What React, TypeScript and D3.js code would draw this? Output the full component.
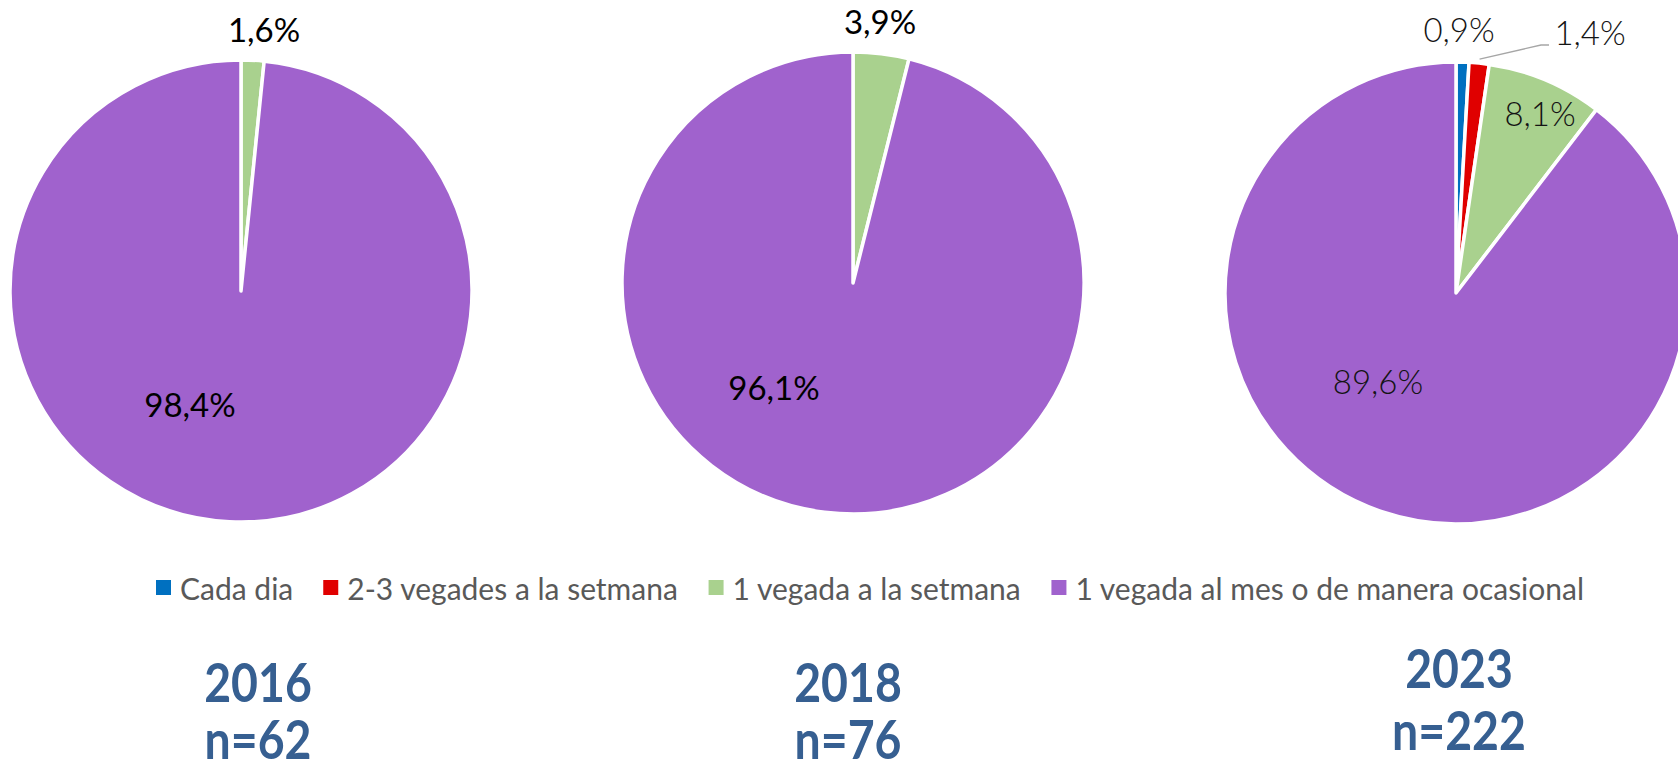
import React from "react";
import * as d3 from "d3";

const categories = [
  "Cada dia",
  "2-3 vegades a la setmana",
  "1 vegada a la setmana",
  "1 vegada al mes o de manera ocasional",
];
const colors = ["#0070C0", "#E00000", "#A9D18E", "#A062CD"];
const years = ["2016", "2018", "2023"];
const sampleSizes = ["n=62", "n=76", "n=222"];
const values2016 = [0, 0, 1.6, 98.4];
const values2018 = [0, 0, 3.9, 96.1];
const values2023 = [0.9, 1.4, 8.1, 89.6];
const seriesValues = [values2016, values2018, values2023];

// layout
const W = 1678;
const H = 764;
const R = 231;
const pieCenters: [number, number][] = [
  [241, 291],
  [853, 283],
  [1456, 293],
];
// label anchors relative to each pie centre (text centre x, baseline y)
const labelOffsets: ([number, number] | null)[][] = [
  [null, null, [23, -249], [-51, 126]],
  [null, null, [27, -249], [-79, 117]],
  [[3, -251], [134, -248], [84, -167], [-78, 101]],
];
const yearPos: [number, number, number][] = [
  [258, 702, 759],
  [848, 702, 759],
  [1459, 688, 750],
];

const fmt = (v: number) => d3.format(".1f")(v).replace(".", ",") + "%";

export default function App() {
  const pie = d3
    .pie<number>()
    .sort(null)
    .value((d) => d)
    .startAngle(0)
    .endAngle(2 * Math.PI);
  const arc = d3.arc<d3.PieArcDatum<number>>().innerRadius(0).outerRadius(R);

  // legend layout
  const legendFont = 30;
  const canvas = typeof document !== "undefined" ? document.createElement("canvas") : null;
  const ctx = canvas ? canvas.getContext("2d") : null;
  if (ctx) ctx.font = `${legendFont}px Lato`;
  const textW = (t: string) => (ctx ? ctx.measureText(t).width : t.length * 14);
  let lx = 156;
  const legendItems = categories.map((c, i) => {
    const item = { x: lx, label: c, color: colors[i] };
    lx += 24 + textW(c) + 30;
    return item;
  });

  return (
    <svg
      width={W}
      height={H}
      viewBox={`0 0 ${W} ${H}`}
      style={{ position: "absolute", left: 0, top: 0, background: "#fff" }}
    >
      <rect x={0} y={0} width={W} height={H} fill="#fff" />
      {seriesValues.map((vals, pi) => {
        const [cx, cy] = pieCenters[pi];
        const arcs = pie(vals);
        const is2023 = pi === 2;
        return (
          <g key={pi} transform={`translate(${cx},${cy})`}>
            {arcs
              .filter((a) => a.value > 0)
              .map((a, i) => (
                <path
                  key={i}
                  d={arc(a) || ""}
                  fill={colors[a.index]}
                  stroke="#fff"
                  strokeWidth={3.5}
                  strokeLinejoin="round"
                />
              ))}
            {is2023 && (() => {
              const a = arcs[1];
              const mid = (a.startAngle + a.endAngle) / 2;
              const r0 = R + 4;
              const x0 = r0 * Math.sin(mid);
              const y0 = -r0 * Math.cos(mid);
              const p = d3.path();
              p.moveTo(x0, y0);
              p.lineTo(85, -248);
              p.lineTo(93, -248);
              return <path d={p.toString()} fill="none" stroke="#A6A6A6" strokeWidth={1.3} />;
            })()}
            {arcs.map((a, i) => {
              const off = labelOffsets[pi][i];
              if (!off || a.value <= 0) return null;
              return (
                <text
                  key={"t" + i}
                  x={off[0]}
                  y={off[1]}
                  textAnchor="middle"
                  fontFamily="Lato, 'Open Sans', sans-serif"
                  fontSize={33}
                  fontWeight={is2023 ? 300 : 400}
                  fill={is2023 ? "#141414" : "#000"}
                >
                  {fmt(a.value)}
                </text>
              );
            })}
          </g>
        );
      })}

      <g>
        {legendItems.map((it, i) => (
          <g key={i}>
            <rect x={it.x} y={580} width={15} height={15} fill={it.color} />
            <text
              x={it.x + 24}
              y={600}
              fontFamily="Lato, 'Open Sans', sans-serif"
              fontSize={legendFont}
              fill="#595959"
            >
              {it.label}
            </text>
          </g>
        ))}
      </g>

      {years.map((y, i) => {
        const [x, y1, y2] = yearPos[i];
        return (
          <g key={y} fill="#365F91" fontFamily="Lato, 'Open Sans', sans-serif" fontWeight={700}>
            <text transform={`translate(${x},${y1}) scale(0.86,1)`} textAnchor="middle" fontSize={54}>
              {y}
            </text>
            <text transform={`translate(${x},${y2}) scale(0.86,1)`} textAnchor="middle" fontSize={54}>
              {sampleSizes[i]}
            </text>
          </g>
        );
      })}
    </svg>
  );
}
